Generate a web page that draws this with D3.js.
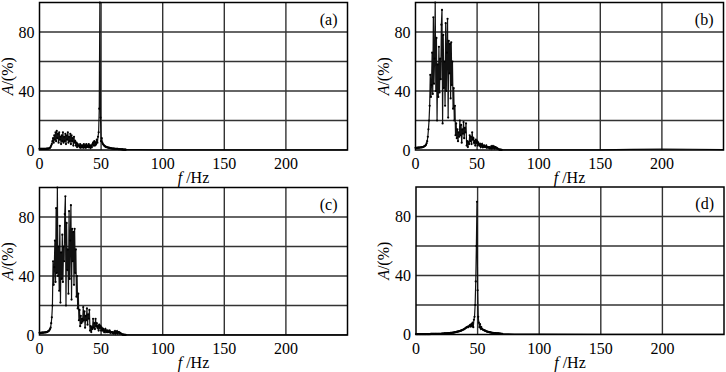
<!DOCTYPE html>
<html>
<head>
<meta charset="utf-8">
<script src="https://cdn.jsdelivr.net/npm/d3@7"></script>
<style>
  body { margin: 0; background: #fff; }
  text { font-family: "Liberation Serif", "DejaVu Serif", serif; fill: #000; }
</style>
</head>
<body>
<svg width="726" height="372"></svg>
<script>
// spectra sampled every 0.5 Hz from 0 to 70 Hz (one row = 5 Hz)
var freqStep = 0.5;

var ampA = [
  0.8,0.8,0.8,0.8,0.8,0.8,0.8,0.8,0.8,0.8,
  0.8,0.8,0.9,0.9,1,1,1.2,1.5,2,3,
  4,6,8,5,10,7,12,6,13,8,
  11,5,12,7,9,4,10,6,12,5,
  9,6,11,4,10,7,12,5,9,6,
  11,4,10,6,8,3,9,5,6,3,
  5,2,4,3,3,2,4,1.5,3,2,
  3,1.5,4,2,3,1.5,4,2,3,2,
  4,2,3,1.5,3,2,4,5,3,6,
  3,5,4,7,5,9,12,28,100,22,
  6,8,5,4,3.5,3,2.5,2.5,2,2,
  1.8,1.7,1.6,1.5,1.4,1.3,1.2,1.1,1,1,
  0.9,0.9,0.8,0.8,0.8,0.7,0.7,0.7,0.6,0.6,
  0.6,0.5,0.5,0.5,0.4,0.4,0.3,0.3,0.3,0.2,
  0.2
];

var ampB = [
  1.5,1.5,1.5,1.5,1.6,1.6,1.6,1.7,1.7,1.8,
  1.8,1.9,2,2.2,2.4,2.7,3,3.5,4.5,6,
  9,14,20,30,51,36,44,66,38,90,
  45,62,100,40,76,20,58,36,70,39,
  62,48,85,95,18,78,42,60,30,86,
  40,66,89,22,74,52,72,35,73,44,
  60,28,42,20,30,10,18,8,14,6,
  12,9,20,10,17,5,14,11,19,8,
  15,12,18,3,6,2,5,4,10,6,
  9,4,12,7,8,5,6,3,7,5,
  6,3,5,4,3,4,2,3,4,2,
  3,2,3,2,2,3,1.5,2,2,1.5,
  2,1,1.5,2.5,1,2.5,1.5,2.5,1,2,
  2,1,1.5,1,0.8,0.5,0.3,0.2,0.2,0.1,
  0.1
];

var ampC = [
  1.5,1.5,1.5,1.5,1.6,1.6,1.6,1.7,1.7,1.8,
  1.8,1.9,2,2.2,2.5,2.8,3.2,4,5,8,
  12,20,50,34,46,64,36,86,42,100,
  40,60,30,74,22,56,38,68,36,60,
  50,82,94,20,76,44,58,28,84,38,
  64,88,24,72,50,70,34,72,42,58,
  26,40,18,28,10,17,6,13,8,11,
  9,19,10,16,5,13,10,18,7,14,
  11,17,3,6,2,5,4,11,5,8,
  4,11,6,8,5,6,3,7,5,6,
  3,5,4,3,4,2,3,4,2,3,
  2,3,2,2,3,1.5,2,2,1.5,2,
  1,1.5,2.5,1,2.5,1.5,2.5,1,2,2,
  1,1.5,1,0.8,0.5,0.3,0.2,0.2,0.1,0.1,
  0.1
];

var ampD = [
  0.3,0.3,0.3,0.3,0.3,0.3,0.3,0.3,0.3,0.3,
  0.3,0.3,0.3,0.3,0.3,0.3,0.3,0.3,0.3,0.3,
  0.3,0.3,0.3,0.3,0.4,0.4,0.4,0.4,0.4,0.4,
  0.4,0.4,0.4,0.4,0.5,0.5,0.5,0.5,0.5,0.5,
  0.5,0.5,0.6,0.6,0.6,0.6,0.7,0.7,0.7,0.8,
  0.8,0.8,0.9,0.9,1,1,1.1,1.1,1.2,1.2,
  1.3,1.3,1.4,1.5,1.6,1.7,1.8,1.9,2,2.1,
  2.2,2.3,2.5,2.6,2.8,3,3.2,3.4,3.6,3.9,
  4.2,4.5,4.8,5,5.3,5,5.6,6,6.5,5.5,
  7,6,8,5,10,12,20,36,60,90,
  30,12,8,5,7,4,5,3.8,3.5,3.2,
  3,2.8,2.6,2.4,2.2,2,1.9,1.8,1.7,1.6,
  1.5,1.4,1.3,1.2,1.2,1.1,1,1,0.9,0.9,
  0.8,0.8,0.7,0.7,0.7,0.6,0.6,0.6,0.5,0.5,
  0.5
];

// sparse tail above 70 Hz
var tailFreqs = [75, 80, 100, 150, 175, 200, 225, 250];
var tailA = [0.2, 0.2, 0.1, 0.1, 0.1, 0.1, 0.1, 0.1];
var tailB = [0.1, 0.1, 0.1, 0.1, 0.4, 0.6, 0.5, 0.2];
var tailC = [0.1, 0.1, 0.1, 0.1, 0.1, 0.1, 0.1, 0.1];
var tailD = [0.4, 0.3, 0.2, 0.1, 0.1, 0.1, 0.1, 0.1];

var xTicks = [0, 50, 100, 150, 200];
var xGrid = [50, 100, 150, 200];
var yTicks = [0, 40, 80];
var yGrid = [20, 40, 60, 80];
var panelNames = ["(a)", "(b)", "(c)", "(d)"];

var svg = d3.select("svg"),
    width = 308,
    height = 147.5;

var panels = [
  {amp: ampA, tail: tailA, left: 39.5, top: 2.5},
  {amp: ampB, tail: tailB, left: 415.5, top: 2.5},
  {amp: ampC, tail: tailC, left: 39.5, top: 187.5},
  {amp: ampD, tail: tailD, left: 416, top: 187}
];

var x = d3.scaleLinear().domain([0, 250]).range([0, width]);
var y = d3.scaleLinear().domain([0, 100]).range([height, 0]);

var line = d3.line()
    .x(function(d) { return x(d[0]); })
    .y(function(d) { return y(d[1]); });

panels.forEach(function(p, k) {
  var g = svg.append("g").attr("transform", "translate(" + p.left + "," + p.top + ")");

  // build (f, A) pairs
  var pts = p.amp.map(function(a, i) { return [i * freqStep, a]; });
  tailFreqs.forEach(function(f, i) { pts.push([f, p.tail[i]]); });

  // grid
  g.selectAll(".vg").data(xGrid).enter().append("line")
    .attr("x1", x).attr("x2", x)
    .attr("y1", 0).attr("y2", height)
    .attr("stroke", "#333").attr("stroke-width", 1.4);
  g.selectAll(".hg").data(yGrid).enter().append("line")
    .attr("x1", 0).attr("x2", width)
    .attr("y1", y).attr("y2", y)
    .attr("stroke", "#333").attr("stroke-width", 1.4);

  // data
  g.append("path")
    .datum(pts)
    .attr("fill", "none")
    .attr("stroke", "#111")
    .attr("stroke-width", 1.2)
    .attr("d", line);

  g.selectAll(".dot").data(pts.filter(function(d) { return d[0] <= 70; }))
    .enter().append("circle")
    .attr("cx", function(d) { return x(d[0]); })
    .attr("cy", function(d) { return y(d[1]); })
    .attr("r", 1.1)
    .attr("fill", "#000");

  // frame
  g.append("rect")
    .attr("width", width).attr("height", height)
    .attr("fill", "none")
    .attr("stroke", "#000").attr("stroke-width", 1.5);

  // tick labels
  g.selectAll(".xt").data(xTicks).enter().append("text")
    .attr("x", x).attr("y", height + 19)
    .attr("text-anchor", "middle")
    .attr("font-size", 16)
    .text(function(d) { return d; });
  g.selectAll(".yt").data(yTicks).enter().append("text")
    .attr("x", -5).attr("y", y).attr("dy", "0.35em")
    .attr("text-anchor", "end")
    .attr("font-size", 16)
    .text(function(d) { return d; });

  // axis titles
  var xt = g.append("text")
    .attr("x", width / 2).attr("y", height + 33)
    .attr("text-anchor", "middle")
    .attr("font-size", 16);
  xt.append("tspan").attr("font-style", "italic").text("f");
  xt.append("tspan").text(" /Hz");

  var yt = g.append("text")
    .attr("transform", "translate(-27," + (height / 2) + ") rotate(-90)")
    .attr("text-anchor", "middle")
    .attr("font-size", 16);
  yt.append("tspan").attr("font-style", "italic").text("A");
  yt.append("tspan").text("/(%)");

  g.append("text")
    .attr("x", width - 10).attr("y", 22)
    .attr("text-anchor", "end")
    .attr("font-size", 16)
    .text(panelNames[k]);
});
</script>
</body>
</html>
